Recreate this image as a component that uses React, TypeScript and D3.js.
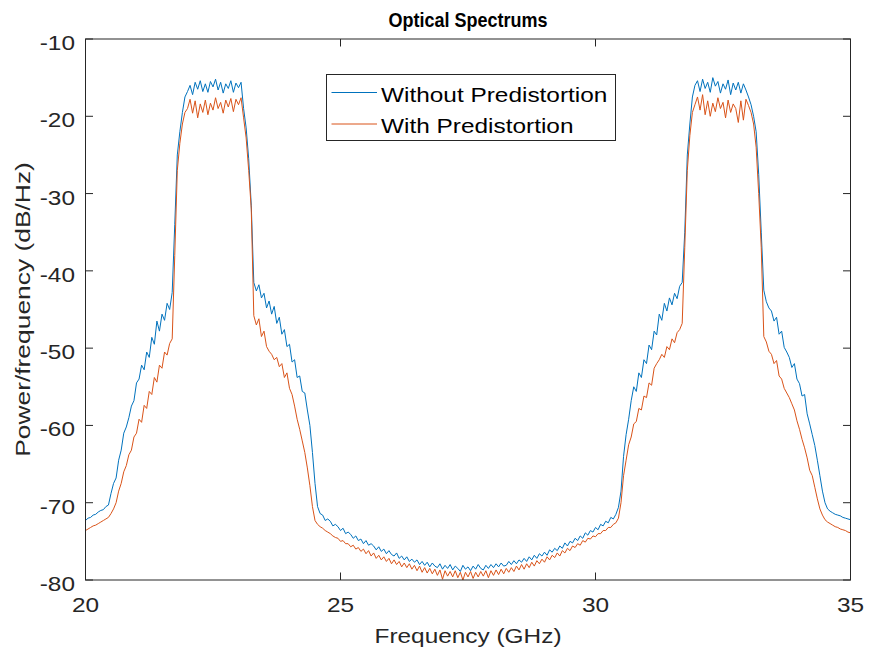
import React from "react";
import * as d3 from "d3";

// ---------- data ----------
const X_TICKS = [20, 25, 30, 35];
const Y_TICKS = [-80, -70, -60, -50, -40, -30, -20, -10];
const SERIES_NAMES = ["Without Predistortion", "With Predistortion"];
const SERIES_COLORS = ["#0072BD", "#D95319"];

// [frequency GHz, power dB/Hz]
const WITHOUT_PRED: [number, number][] = [
  [20.00,-72.3],[20.05,-72.0],[20.10,-71.9],[20.15,-71.6],[20.20,-71.5],[20.25,-71.2],[20.30,-71.0],[20.35,-70.9],[20.40,-70.5],[20.45,-70.3],
  [20.50,-68.8],[20.55,-67.5],[20.60,-66.8],[20.65,-64.5],[20.70,-63.2],[20.75,-61.0],[20.80,-60.2],
  [20.85,-59.0],[20.90,-57.5],[20.95,-56.8],[21.00,-54.5],[21.05,-54.0],[21.10,-52.2],[21.15,-52.8],[21.20,-50.5],[21.25,-51.2],[21.30,-48.6],
  [21.35,-49.5],[21.40,-46.5],[21.45,-47.8],[21.50,-45.6],[21.55,-46.4],[21.60,-44.2],[21.65,-45.0],[21.70,-42.8],
  [21.75,-34.0],[21.80,-25.0],[21.85,-22.0],[21.90,-19.5],[21.95,-17.5],[22.00,-16.8],
  [22.05,-16.0],[22.10,-17.2],[22.15,-15.6],[22.20,-16.5],[22.25,-15.4],[22.30,-16.8],[22.35,-15.8],[22.40,-16.9],[22.45,-15.5],[22.50,-16.2],
  [22.55,-15.2],[22.60,-16.6],[22.65,-15.6],[22.70,-17.0],[22.75,-15.8],[22.80,-16.4],[22.85,-15.4],[22.90,-16.9],[22.95,-15.7],[23.00,-16.3],[23.05,-15.6],
  [23.10,-19.0],[23.15,-21.5],[23.20,-25.5],[23.25,-31.5],[23.30,-41.5],
  [23.35,-42.6],[23.40,-41.8],[23.45,-43.5],[23.50,-42.9],[23.55,-44.8],[23.60,-43.9],[23.65,-45.6],[23.70,-44.6],[23.75,-46.8],[23.80,-46.0],
  [23.85,-48.2],[23.90,-47.6],[23.95,-49.8],[24.00,-49.5],[24.05,-51.8],[24.10,-51.5],[24.15,-53.8],[24.20,-53.6],[24.25,-55.6],[24.30,-55.8],
  [24.35,-58.0],[24.40,-60.0],[24.45,-63.5],[24.50,-67.5],[24.55,-70.5],[24.60,-71.4],
  [24.65,-71.6],[24.70,-72.3],[24.75,-72.1],[24.80,-72.4],[24.85,-73.0],[24.90,-72.8],[24.95,-73.1],[25.00,-73.6],[25.05,-73.3],[25.10,-74.0],
  [25.15,-73.8],[25.20,-74.1],[25.25,-74.6],[25.30,-74.3],[25.35,-74.9],[25.40,-74.7],[25.45,-75.3],[25.50,-74.9],[25.55,-75.5],[25.60,-75.3],
  [25.65,-75.6],[25.70,-76.1],[25.75,-75.7],[25.80,-76.3],[25.85,-76.0],[25.90,-76.6],[25.95,-76.2],[26.00,-76.7],[26.05,-76.9],[26.10,-76.5],
  [26.15,-77.2],[26.20,-76.9],[26.25,-77.4],[26.30,-77.0],[26.35,-77.6],[26.40,-77.3],[26.45,-77.7],[26.50,-77.4],[26.55,-78.0],[26.60,-77.6],
  [26.65,-78.1],[26.70,-77.7],[26.75,-78.3],[26.80,-77.8],[26.85,-78.2],[26.90,-78.4],[26.95,-77.9],[27.00,-78.6],[27.05,-78.1],[27.10,-78.5],
  [27.15,-78.0],[27.20,-78.7],[27.25,-78.2],[27.30,-78.5],[27.35,-78.9],[27.40,-78.1],[27.45,-78.6],[27.50,-78.3],[27.55,-78.8],[27.60,-78.2],
  [27.65,-78.6],[27.70,-78.0],[27.75,-78.5],[27.80,-78.7],[27.85,-78.1],[27.90,-78.5],[27.95,-78.0],[28.00,-78.4],[28.05,-77.9],[28.10,-78.3],
  [28.15,-77.8],[28.20,-78.2],[28.25,-78.1],[28.30,-77.6],[28.35,-78.0],[28.40,-77.5],[28.45,-77.9],[28.50,-77.4],[28.55,-77.7],[28.60,-77.2],
  [28.65,-77.6],[28.70,-77.0],[28.75,-77.4],[28.80,-76.8],[28.85,-77.2],[28.90,-76.6],[28.95,-76.9],[29.00,-76.4],[29.05,-76.8],[29.10,-76.1],
  [29.15,-76.4],[29.20,-75.9],[29.25,-76.2],[29.30,-75.6],[29.35,-75.9],[29.40,-75.2],[29.45,-75.6],[29.50,-75.0],[29.55,-75.2],[29.60,-74.6],
  [29.65,-74.9],[29.70,-74.3],[29.75,-74.6],[29.80,-73.9],[29.85,-74.2],[29.90,-73.6],[29.95,-73.8],[30.00,-73.2],[30.05,-73.5],[30.10,-72.8],
  [30.15,-73.0],[30.20,-72.4],[30.25,-72.6],[30.30,-71.9],[30.35,-72.1],[30.40,-71.5],
  [30.45,-70.6],[30.50,-68.5],[30.55,-64.0],[30.60,-61.2],[30.65,-59.2],
  [30.70,-56.8],[30.75,-55.0],[30.80,-55.6],[30.85,-53.2],[30.90,-53.8],[30.95,-51.5],[31.00,-52.0],[31.05,-49.6],[31.10,-50.2],[31.15,-47.8],
  [31.20,-48.3],[31.25,-45.6],[31.30,-46.4],[31.35,-44.2],[31.40,-45.2],[31.45,-43.5],[31.50,-44.4],[31.55,-42.9],[31.60,-43.6],[31.65,-42.0],[31.70,-41.5],
  [31.75,-35.0],[31.80,-25.0],[31.85,-21.0],[31.90,-17.5],[31.95,-16.0],
  [32.00,-15.4],[32.05,-16.8],[32.10,-15.2],[32.15,-16.4],[32.20,-15.6],[32.25,-16.9],[32.30,-15.0],[32.35,-16.1],[32.40,-15.5],[32.45,-17.0],
  [32.50,-15.8],[32.55,-16.5],[32.60,-15.3],[32.65,-17.2],[32.70,-15.7],[32.75,-16.6],[32.80,-15.6],[32.85,-17.0],[32.90,-15.8],[32.95,-16.6],[33.00,-17.5],
  [33.05,-18.5],[33.10,-20.0],[33.15,-22.0],[33.20,-27.5],[33.25,-35.0],[33.30,-42.5],
  [33.35,-44.0],[33.40,-44.8],[33.45,-45.2],[33.50,-46.5],[33.55,-46.0],[33.60,-48.2],[33.65,-47.8],[33.70,-49.9],[33.75,-50.5],[33.80,-51.2],
  [33.85,-52.5],[33.90,-52.0],[33.95,-54.0],[34.00,-54.6],[34.05,-56.2],[34.10,-56.0],[34.15,-58.5],[34.20,-59.8],[34.25,-61.2],[34.30,-62.6],
  [34.35,-64.5],[34.40,-66.5],[34.45,-68.5],[34.50,-70.0],[34.55,-70.8],[34.60,-71.1],[34.65,-71.3],[34.70,-71.5],[34.75,-71.6],[34.80,-71.7],
  [34.85,-71.9],[34.90,-72.0],[34.95,-72.1],[35.00,-72.2],
];

const WITH_PRED: [number, number][] = [
  [20.00,-73.6],[20.05,-73.4],[20.10,-73.2],[20.15,-73.0],[20.20,-72.9],[20.25,-72.7],[20.30,-72.5],[20.35,-72.3],[20.40,-72.1],[20.45,-71.9],
  [20.50,-71.4],[20.55,-70.8],[20.60,-70.0],[20.65,-68.5],[20.70,-67.5],[20.75,-66.0],[20.80,-65.2],[20.85,-63.8],[20.90,-63.2],[20.95,-61.5],
  [21.00,-61.0],[21.05,-59.2],[21.10,-59.6],[21.15,-57.4],[21.20,-57.8],[21.25,-55.6],[21.30,-56.0],[21.35,-53.8],[21.40,-54.4],[21.45,-52.2],
  [21.50,-52.6],[21.55,-50.5],[21.60,-50.9],[21.65,-49.4],[21.70,-48.8],
  [21.75,-38.0],[21.80,-27.0],[21.85,-23.5],[21.90,-21.0],[21.95,-19.5],[22.00,-19.0],
  [22.05,-17.8],[22.10,-19.6],[22.15,-18.0],[22.20,-20.2],[22.25,-18.4],[22.30,-19.5],[22.35,-17.9],[22.40,-19.8],[22.45,-18.3],[22.50,-19.2],
  [22.55,-17.6],[22.60,-19.0],[22.65,-18.2],[22.70,-19.6],[22.75,-17.9],[22.80,-18.8],[22.85,-17.7],[22.90,-19.4],[22.95,-17.8],[23.00,-18.5],[23.05,-17.6],
  [23.10,-20.2],[23.15,-22.8],[23.20,-27.0],[23.25,-32.0],[23.30,-45.8],
  [23.35,-47.0],[23.40,-46.2],[23.45,-48.5],[23.50,-47.8],[23.55,-49.8],[23.60,-50.4],[23.65,-50.8],[23.70,-51.5],[23.75,-51.2],[23.80,-52.4],
  [23.85,-52.0],[23.90,-53.8],[23.95,-53.2],[24.00,-55.2],[24.05,-56.0],[24.10,-57.5],[24.15,-59.2],[24.20,-60.5],[24.25,-62.0],[24.30,-63.5],
  [24.35,-65.5],[24.40,-67.8],[24.45,-70.5],[24.50,-72.3],[24.55,-72.8],[24.60,-73.1],
  [24.65,-73.3],[24.70,-73.6],[24.75,-73.8],[24.80,-74.0],[24.85,-74.3],[24.90,-74.5],[24.95,-74.6],[25.00,-75.0],[25.05,-74.9],[25.10,-75.3],
  [25.15,-75.3],[25.20,-75.7],[25.25,-75.5],[25.30,-76.0],[25.35,-75.8],[25.40,-76.3],[25.45,-76.0],[25.50,-76.6],[25.55,-76.2],[25.60,-76.9],
  [25.65,-76.5],[25.70,-77.2],[25.75,-76.8],[25.80,-77.4],[25.85,-77.0],[25.90,-77.6],[25.95,-77.2],[26.00,-77.9],[26.05,-77.4],[26.10,-78.0],
  [26.15,-77.6],[26.20,-78.3],[26.25,-77.8],[26.30,-78.4],[26.35,-77.9],[26.40,-78.6],[26.45,-78.1],[26.50,-78.8],[26.55,-78.2],[26.60,-79.0],
  [26.65,-78.4],[26.70,-79.1],[26.75,-78.5],[26.80,-79.2],[26.85,-78.6],[26.90,-79.4],[26.95,-78.7],[27.00,-79.9],[27.05,-78.8],[27.10,-79.5],
  [27.15,-78.9],[27.20,-79.6],[27.25,-78.8],[27.30,-79.7],[27.35,-79.0],[27.40,-80.0],[27.45,-79.0],[27.50,-79.6],[27.55,-78.9],[27.60,-79.8],
  [27.65,-79.0],[27.70,-79.6],[27.75,-78.9],[27.80,-79.5],[27.85,-78.8],[27.90,-79.7],[27.95,-78.8],[28.00,-79.4],[28.05,-78.7],[28.10,-79.3],
  [28.15,-78.6],[28.20,-79.2],[28.25,-78.5],[28.30,-79.0],[28.35,-78.4],[28.40,-78.9],[28.45,-78.2],[28.50,-78.7],[28.55,-78.0],[28.60,-78.6],
  [28.65,-77.9],[28.70,-78.4],[28.75,-77.7],[28.80,-78.2],[28.85,-77.5],[28.90,-77.9],[28.95,-77.3],[29.00,-77.7],[29.05,-77.0],[29.10,-77.4],
  [29.15,-76.8],[29.20,-77.1],[29.25,-76.5],[29.30,-76.9],[29.35,-76.2],[29.40,-76.5],[29.45,-75.9],[29.50,-76.2],[29.55,-75.6],[29.60,-75.8],
  [29.65,-75.3],[29.70,-75.5],[29.75,-74.9],[29.80,-75.1],[29.85,-74.6],[29.90,-74.7],[29.95,-74.3],[30.00,-74.4],[30.05,-74.0],[30.10,-74.0],
  [30.15,-73.6],[30.20,-73.6],[30.25,-73.2],[30.30,-73.2],[30.35,-72.8],[30.40,-72.6],
  [30.45,-72.0],[30.50,-70.0],[30.55,-66.5],[30.60,-64.5],[30.65,-62.5],[30.70,-61.5],[30.75,-59.8],[30.80,-59.5],[30.85,-57.8],[30.90,-58.0],
  [30.95,-56.2],[31.00,-56.4],[31.05,-54.5],[31.10,-54.8],[31.15,-52.6],[31.20,-52.0],[31.25,-51.5],[31.30,-50.8],[31.35,-51.2],[31.40,-49.8],
  [31.45,-50.2],[31.50,-48.8],[31.55,-49.3],[31.60,-48.0],[31.65,-47.6],[31.70,-46.8],
  [31.75,-37.0],[31.80,-27.0],[31.85,-22.5],[31.90,-19.5],[31.95,-18.5],
  [32.00,-17.5],[32.05,-19.2],[32.10,-17.2],[32.15,-19.8],[32.20,-18.0],[32.25,-20.0],[32.30,-18.3],[32.35,-19.4],[32.40,-17.6],[32.45,-19.0],
  [32.50,-18.2],[32.55,-20.2],[32.60,-17.9],[32.65,-19.5],[32.70,-18.4],[32.75,-19.0],[32.80,-20.8],[32.85,-18.0],[32.90,-20.5],[32.95,-17.8],[33.00,-18.6],
  [33.05,-19.5],[33.10,-21.0],[33.15,-24.0],[33.20,-30.0],[33.25,-37.0],[33.30,-48.5],
  [33.35,-49.2],[33.40,-50.4],[33.45,-50.8],[33.50,-52.0],[33.55,-51.6],[33.60,-53.6],[33.65,-54.0],[33.70,-55.2],[33.75,-55.8],[33.80,-56.4],
  [33.85,-57.2],[33.90,-58.0],[33.95,-59.4],[34.00,-60.5],[34.05,-61.8],[34.10,-62.9],[34.15,-64.2],[34.20,-65.8],[34.25,-66.5],[34.30,-68.0],
  [34.35,-69.5],[34.40,-70.8],[34.45,-71.6],[34.50,-72.2],[34.55,-72.5],[34.60,-72.7],[34.65,-72.9],[34.70,-73.1],[34.75,-73.2],[34.80,-73.4],
  [34.85,-73.5],[34.90,-73.6],[34.95,-73.8],[35.00,-73.9],
];

const TITLE = "Optical Spectrums";
const X_LABEL = "Frequency (GHz)";
const Y_LABEL = "Power/frequency (dB/Hz)";

// ---------- layout ----------
const W = 869;
const H = 653;
const L = 85.5, R = 850.5, T = 39, B = 580;
const FONT = "'Liberation Sans', Arial, Helvetica, sans-serif";
const AX = "#262626";
const SX = 1.22; // horizontal stretch of the reference's text

function SText({ x, y, children, anchor = "start", size = 20, weight = "normal", rotate = 0, sx = SX, fill = "#262626" }: any) {
  const tf = `translate(${x},${y})${rotate ? ` rotate(${rotate})` : ""} scale(${sx},1)`;
  return (
    <text transform={tf} textAnchor={anchor} fontSize={size} fontWeight={weight} fontFamily={FONT} fill={fill}>
      {children}
    </text>
  );
}

export default function App() {
  const x = d3.scaleLinear().domain([20, 35]).range([L, R]);
  const y = d3.scaleLinear().domain([-80, -10]).range([B, T]);
  const line = d3
    .line<[number, number]>()
    .x((d) => x(d[0]))
    .y((d) => y(d[1]));
  const series = [WITHOUT_PRED, WITH_PRED];
  const tick = 7.5;

  return (
    <svg width={W} height={H} style={{ position: "absolute", left: 0, top: 0, background: "#fff" }}>
      <defs>
        <clipPath id="plotclip">
          <rect x={L} y={T} width={R - L} height={B - T} />
        </clipPath>
      </defs>
      <rect x={0} y={0} width={W} height={H} fill="#fff" />

      <g clipPath="url(#plotclip)">
        {series.map((s, i) => (
          <path key={i} d={line(s) || ""} fill="none" stroke={SERIES_COLORS[i]} strokeWidth={1} strokeLinejoin="round" />
        ))}
      </g>

      {/* axes box */}
      <rect x={L} y={T} width={R - L} height={B - T} fill="none" stroke={AX} strokeWidth={1} />
      {X_TICKS.map((t) => (
        <g key={"xt" + t}>
          <line x1={x(t)} x2={x(t)} y1={B} y2={B - tick} stroke={AX} strokeWidth={1} />
          <line x1={x(t)} x2={x(t)} y1={T} y2={T + tick} stroke={AX} strokeWidth={1} />
          <SText x={x(t)} y={612} anchor="middle">{String(t)}</SText>
        </g>
      ))}
      {Y_TICKS.map((t) => (
        <g key={"yt" + t}>
          <line x1={L} x2={L + tick} y1={y(t)} y2={y(t)} stroke={AX} strokeWidth={1} />
          <line x1={R} x2={R - tick} y1={y(t)} y2={y(t)} stroke={AX} strokeWidth={1} />
          <SText x={75} y={y(t) + 11} anchor="end">{String(t)}</SText>
        </g>
      ))}

      <SText x={(L + R) / 2} y={27} anchor="middle" size={20} weight="bold" sx={0.9} fill="#000">{TITLE}</SText>
      <SText x={(L + R) / 2} y={643} anchor="middle">{X_LABEL}</SText>
      <SText x={30} y={(T + B) / 2} anchor="middle" rotate={-90} sx={1.32}>{Y_LABEL}</SText>

      {/* legend */}
      <rect x={326.5} y={74.5} width={289} height={66} fill="#fff" stroke={AX} strokeWidth={1} />
      {SERIES_NAMES.map((n, i) => (
        <g key={n}>
          <line x1={331.5} x2={377} y1={92.5 + i * 31.5} y2={92.5 + i * 31.5} stroke={SERIES_COLORS[i]} strokeWidth={1} />
          <SText x={381} y={101.5 + i * 31.5} fill="#000">{n}</SText>
        </g>
      ))}
    </svg>
  );
}
